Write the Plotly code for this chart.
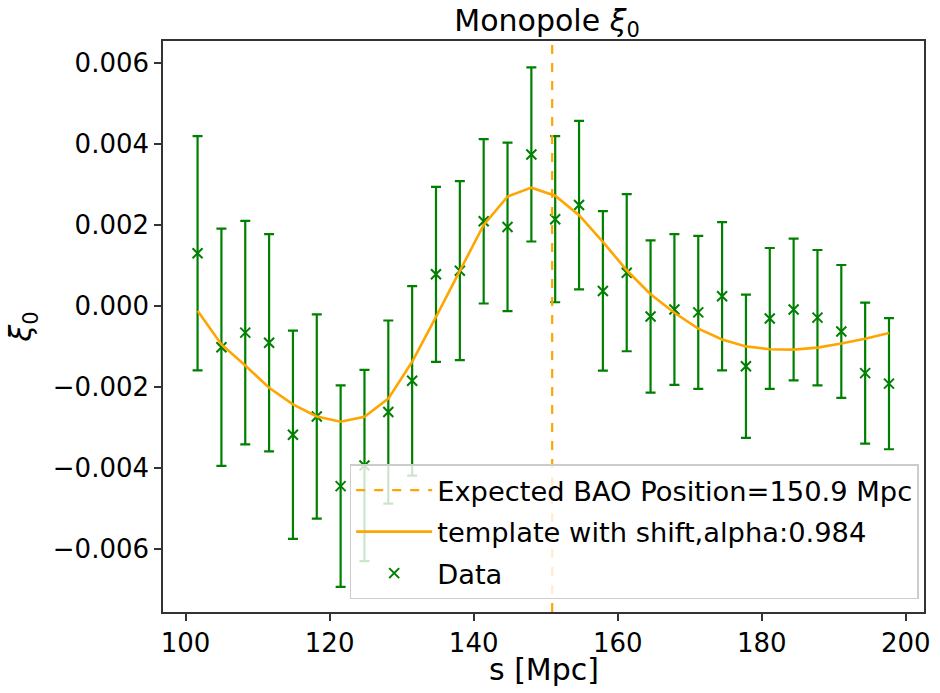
import plotly.graph_objects as go

# ---- data ----
s_vals = [101.67, 104.98, 108.29, 111.60, 114.91, 118.22, 121.53, 124.84, 128.15, 131.46,
          134.77, 138.08, 141.39, 144.70, 148.01, 151.32, 154.63, 157.94, 161.25, 164.56,
          167.87, 171.18, 174.49, 177.80, 181.11, 184.42, 187.73, 191.04, 194.35, 197.66]

xi0_data = [0.00129, -0.00103, -0.00067, -0.00092, -0.00319, -0.00274, -0.00446, -0.00395, -0.00263, -0.00186,
            0.00077, 0.00086, 0.00208, 0.00194, 0.00373, 0.00213, 0.00248, 0.00036, 0.00081, -0.00027,
            -0.00010, -0.00017, 0.00023, -0.00150, -0.00032, -0.00010, -0.00030, -0.00064, -0.00167, -0.00193]

xi0_err = [0.00289, 0.00293, 0.00276, 0.00268, 0.00257, 0.00252, 0.00249, 0.00236, 0.00226, 0.00234,
           0.00216, 0.00221, 0.00203, 0.00208, 0.00215, 0.00205, 0.00208, 0.00197, 0.00194, 0.00188,
           0.00186, 0.00189, 0.00183, 0.00177, 0.00174, 0.00175, 0.00167, 0.00164, 0.00174, 0.00162]

template_vals = [-0.00013, -0.00096, -0.00148, -0.00203, -0.00244, -0.00274, -0.00287, -0.00275, -0.00230, -0.00139,
                 -0.00028, 0.00087, 0.00199, 0.00269, 0.00291, 0.00271, 0.00223, 0.00157, 0.00087, 0.00028,
                 -0.00018, -0.00057, -0.00084, -0.00101, -0.00108, -0.00109, -0.00104, -0.00094, -0.00082, -0.00068]

bao_position = 150.9
alpha_fit = 0.984

x_range = [96.87, 202.52]
y_range = [-0.007568, 0.006531]
x_ticks = [100, 120, 140, 160, 180, 200]
y_ticks = [-0.006, -0.004, -0.002, 0.000, 0.002, 0.004, 0.006]

GREEN = "#008000"
ORANGE = "#FFA500"
FONT = "DejaVu Sans"

fig = go.Figure()

fig.add_trace(go.Scatter(
    x=s_vals, y=xi0_data, mode="markers", name="Data",
    marker=dict(symbol="x-thin", size=10, color=GREEN, line=dict(color=GREEN, width=2)),
    error_y=dict(type="data", array=xi0_err, visible=True, color=GREEN, thickness=2.2, width=5),
    legendrank=3, legendgroup="c",
))

fig.add_trace(go.Scatter(
    x=s_vals, y=template_vals, mode="lines",
    name=f"template with shift,alpha:{alpha_fit}",
    line=dict(color=ORANGE, width=2.6),
    legendrank=2, legendgroup="b",
))

fig.add_trace(go.Scatter(
    x=[bao_position, bao_position], y=y_range, mode="lines",
    name=f"Expected BAO Position={bao_position} Mpc",
    line=dict(color=ORANGE, width=2.2, dash="dash"),
    legendrank=1, legendgroup="a",
))

fig.update_layout(
    width=940, height=693,
    margin=dict(l=163, r=9, t=41, b=81),
    paper_bgcolor="white", plot_bgcolor="white",
    font=dict(family=FONT, size=26, color="black"),
    title=dict(text="Monopole <i>ξ</i><sub>0</sub>", x=0.582, xanchor="center",
               y=1 - 20 / 693, yanchor="middle", yref="container",
               font=dict(family=FONT, size=30, color="black")),
    showlegend=True,
    legend=dict(x=0.993, y=0.022, xanchor="right", yanchor="bottom",
                bgcolor="rgba(255,255,255,0.8)", bordercolor="#cccccc", borderwidth=1.5,
                font=dict(family=FONT, size=27.3, color="black"),
                traceorder="grouped", tracegroupgap=3, itemwidth=76),
    annotations=[dict(text="s [Mpc]", xref="paper", yref="paper", x=0.5, y=-0.1,
                      xanchor="center", yanchor="middle", showarrow=False,
                      font=dict(family=FONT, size=30, color="black"))],
)

fig.update_xaxes(
    range=x_range, tickvals=x_ticks, ticktext=[str(v) for v in x_ticks],
    showgrid=False, zeroline=False,
    showline=True, linecolor="#333333", linewidth=1.5, mirror=True,
    ticks="outside", ticklen=7, tickwidth=1.5, tickcolor="#333333",
    tickfont=dict(family=FONT, size=26, color="black"),
)

fig.update_yaxes(
    range=y_range, tickvals=y_ticks, tickformat=".3f",
    showgrid=False, zeroline=False,
    showline=True, linecolor="#333333", linewidth=1.5, mirror=True,
    ticks="outside", ticklen=7, tickwidth=1.5, tickcolor="#333333",
    tickfont=dict(family=FONT, size=26, color="black"),
    title=dict(text="<i>ξ</i><sub>0</sub>", font=dict(family=FONT, size=30, color="black"), standoff=12),
)

fig.write_html("out.html")
